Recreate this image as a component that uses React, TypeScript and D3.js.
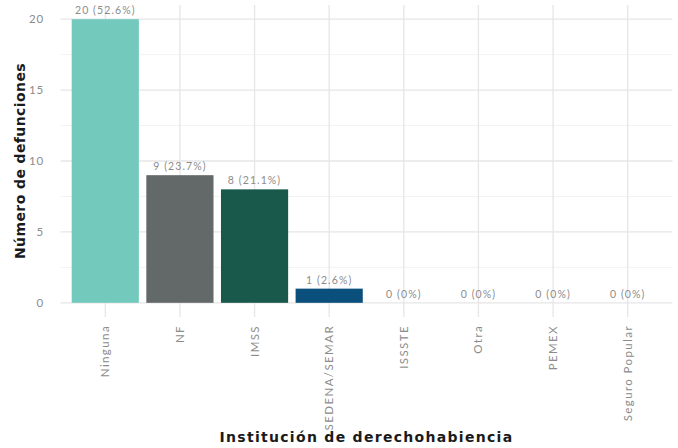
import React from "react";
import * as d3 from "d3";

const categories = ["Ninguna", "NF", "IMSS", "SEDENA/SEMAR", "ISSSTE", "Otra", "PEMEX", "Seguro Popular"];
const values = [20, 9, 8, 1, 0, 0, 0, 0];
const percents = ["52.6%", "23.7%", "21.1%", "2.6%", "0%", "0%", "0%", "0%"];
const colors = ["#74c9bd", "#636968", "#18594b", "#0b4f7c", "#999999", "#999999", "#999999", "#999999"];
const yTicks = [0, 5, 10, 15, 20];
const yMinor = [2.5, 7.5, 12.5, 17.5];

const W = 678, H = 448;
const left = 60.5, right = 672.5, top = 5, bottom = 317;

export default function App() {
  const n = categories.length;
  const x = d3.scaleLinear().domain([-0.6, n - 1 + 0.6]).range([left, right]);
  const step = x(1) - x(0);
  const y = d3.scaleLinear().domain([-1, 21]).range([bottom, top]);
  const tickFont = "Lato, 'Open Sans', sans-serif";
  return (
    <svg width={W} height={H} style={{ position: "absolute", left: 0, top: 0, background: "#fff" }}>
      {yMinor.map((t) => (
        <line key={"mn" + t} x1={left} x2={right} y1={y(t)} y2={y(t)} stroke="#f3f3f3" strokeWidth={1} />
      ))}
      {yTicks.map((t) => (
        <line key={"mj" + t} x1={left} x2={right} y1={y(t)} y2={y(t)} stroke="#e6e6e6" strokeWidth={1.3} />
      ))}
      {categories.map((c, i) => (
        <line key={"vg" + c} x1={x(i)} x2={x(i)} y1={top} y2={bottom} stroke="#e6e6e6" strokeWidth={1.3} />
      ))}
      {categories.map((c, i) => (
        values[i] > 0 ? (
          <rect key={"b" + c} x={x(i) - step * 0.45} width={step * 0.9} y={y(values[i])} height={y(0) - y(values[i])} fill={colors[i]} />
        ) : null
      ))}
      {categories.map((c, i) => (
        <text key={"l" + c} x={x(i)} y={y(values[i]) - 5} textAnchor="middle" fontFamily={tickFont} fontSize={10.5} fill="#8c8c8c" letterSpacing={1.1}>
          {`${values[i]} (${percents[i]})`}
        </text>
      ))}
      {yTicks.map((t) => (
        <text key={"yt" + t} x={44} y={y(t)} dy="0.35em" textAnchor="end" fontFamily={tickFont} fontSize={11.5} fill="#8c8c8c" letterSpacing={0.8}>
          {t}
        </text>
      ))}
      {categories.map((c, i) => (
        <text key={"xt" + c} transform={`translate(${x(i)},${325}) rotate(-90)`} textAnchor="end" dy="0.35em" fontFamily={tickFont} fontSize={11.5} fill="#8c8c8c" letterSpacing={1.4}>
          {c}
        </text>
      ))}
      <text transform={`translate(20,${(top + bottom) / 2}) rotate(-90)`} textAnchor="middle" dy="0.35em" fontFamily="'DejaVu Sans', sans-serif" fontWeight="bold" fontSize={14} fill="#1a1a1a" letterSpacing={0.4}>
        Número de defunciones
      </text>
      <text x={(left + right) / 2} y={442} textAnchor="middle" fontFamily="'DejaVu Sans', sans-serif" fontWeight="bold" fontSize={14} fill="#1a1a1a" letterSpacing={1.3}>
        Institución de derechohabiencia
      </text>
    </svg>
  );
}
